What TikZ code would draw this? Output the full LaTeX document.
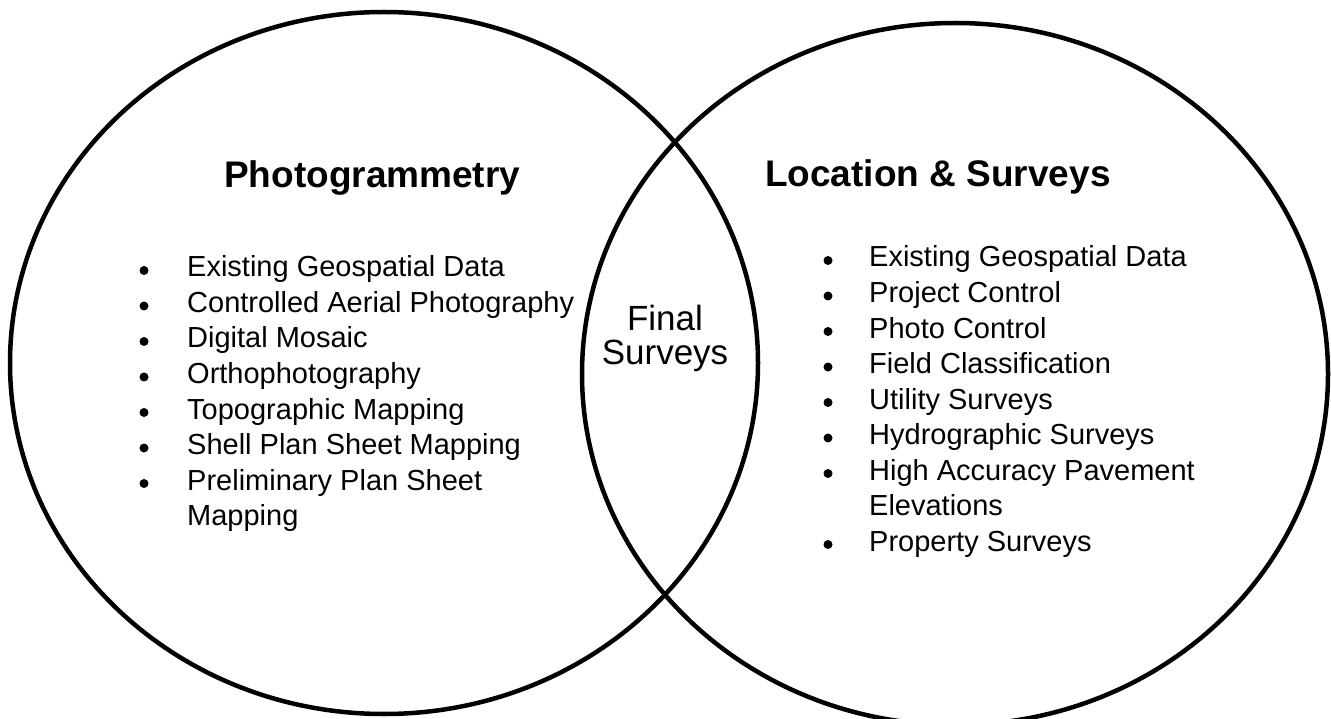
\documentclass[tikz,border=0pt]{standalone}
\usepackage{fontspec}
\setmainfont{Liberation Sans}
\begin{document}
\begin{tikzpicture}[x=1pt,y=-1pt,
  ring/.style={line width=4.5pt, draw=black},
  heading/.style={font=\fontsize{37}{44}\selectfont\bfseries, anchor=base west, inner sep=0pt},
  item/.style={font=\fontsize{29}{35}\selectfont, anchor=base west, inner sep=0pt},
  middle/.style={font=\fontsize{35}{40}\selectfont, anchor=base, inner sep=0pt},
  dot/.style={circle, fill=black, minimum size=9pt, inner sep=0pt}]
\useasboundingbox (0,0) rectangle (1331,719);
% circles
\draw[ring] (384,363) ellipse [x radius=374, y radius=351];
\draw[ring] (955,374) ellipse [x radius=373, y radius=351];
% titles
\node[heading] (tl) at (224,188) {Photogrammetry};
\node[heading] (tr) at (765,187) {Location \& Surveys};
% centre
\node[middle] (f1) at (665,331) {Final};
\node[middle] (f2) at (665,365) {Surveys};
% left list
\foreach \t [count=\i] in {Existing Geospatial Data, Controlled Aerial Photography, Digital Mosaic, Orthophotography, Topographic Mapping, Shell Plan Sheet Mapping, Preliminary Plan Sheet}{
  \node[dot] (lb\i) at (144,{277+35.5*(\i-1)-6.5}) {};
  \node[item] (l\i) at (187,{277+35.5*(\i-1)}) {\t};
}
\node[item] (l8) at (187,{277+35.5*7}) {Mapping};
% right list
\foreach \t/\b [count=\i] in {Existing Geospatial Data/1, Project Control/1, Photo Control/1, Field Classification/1, Utility Surveys/1, Hydrographic Surveys/1, High Accuracy Pavement/1, Elevations/0, Property Surveys/1}{
  \ifnum\b=1
    \node[dot] (rb\i) at (828,{267+35.5*(\i-1)-6.5}) {};
  \fi
  \node[item] (r\i) at (869,{267+35.5*(\i-1)}) {\t};
}
\end{tikzpicture}
\end{document}
